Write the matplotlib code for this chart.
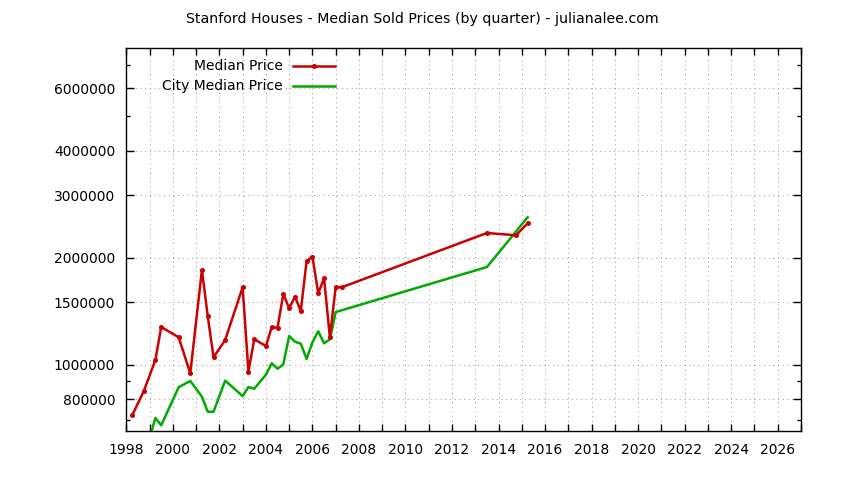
import matplotlib
matplotlib.use("Agg")
import matplotlib.pyplot as plt
from matplotlib.ticker import FixedLocator, FuncFormatter, NullFormatter
from matplotlib.lines import Line2D

# ---- data ----
median_x = [1998.25, 1998.75, 1999.25, 1999.5, 2000.25, 2000.75, 2001.25, 2001.5,
            2001.75, 2002.25, 2003.0, 2003.25, 2003.5, 2004.0, 2004.25, 2004.5,
            2004.75, 2005.0, 2005.25, 2005.5, 2005.75, 2006.0, 2006.25, 2006.5,
            2006.75, 2007.0, 2007.25, 2013.5, 2014.75, 2015.25]
median_y = [721000, 843000, 1032000, 1278000, 1196000, 947000, 1849000, 1373000,
            1050000, 1175000, 1653000, 957000, 1180000, 1130000, 1276000, 1272000,
            1583000, 1443000, 1555000, 1418000, 1960000, 2016000, 1590000, 1752000,
            1196000, 1656000, 1652000, 2350000, 2315000, 2502000]

city_x = [1999.0, 1999.25, 1999.5, 2000.25, 2000.75, 2001.25, 2001.5, 2001.75,
          2002.25, 2003.0, 2003.25, 2003.5, 2004.0, 2004.25, 2004.5, 2004.75,
          2005.0, 2005.25, 2005.5, 2005.75, 2006.0, 2006.25, 2006.5, 2006.75,
          2007.0, 2013.5, 2015.25]
city_y = [621000, 709000, 676000, 865000, 901000, 814000, 738000, 738000,
          903000, 817000, 866000, 857000, 938000, 1010000, 975000, 1004000,
          1206000, 1162000, 1147000, 1039000, 1157000, 1243000, 1150000, 1180000,
          1408000, 1885000, 2601000]

y_major = [800000, 1000000, 1500000, 2000000, 3000000, 4000000, 6000000]
y_minor = [700000, 900000, 5000000, 7000000]
x_years = list(range(1998, 2028))

title = "Stanford Houses - Median Sold Prices (by quarter) - julianalee.com"
labels = ["Median Price", "City Median Price"]

RED = "#cc0000"
GREEN = "#00aa00"

plt.rcParams['font.family'] = ['DejaVu Sans']
plt.rcParams['font.size'] = 10

W, H = 844, 480
fig = plt.figure(figsize=(W / 100, H / 100), dpi=100)
L, R, T, B = 126.3, 801, 48, 431
ax = fig.add_axes([L / W, 1 - B / H, (R - L) / W, (B - T) / H])

LW = 1.8
MS = 2.6
ax.set_yscale('log')
ax.plot(median_x, median_y, color=RED, lw=LW, marker='o', ms=MS, zorder=3)
ax.plot(city_x, city_y, color=GREEN, lw=LW, zorder=2)

ax.set_xlim(1998, 2027)
ax.set_ylim(651500, 7790000)

ax.xaxis.set_major_locator(FixedLocator(x_years))
ax.xaxis.set_major_formatter(FuncFormatter(lambda v, p: f"{int(round(v))}" if int(round(v)) % 2 == 0 else ""))
ax.yaxis.set_major_locator(FixedLocator(y_major))
ax.yaxis.set_major_formatter(FuncFormatter(lambda v, p: f"{int(round(v))}"))
ax.yaxis.set_minor_locator(FixedLocator(y_minor))
ax.yaxis.set_minor_formatter(NullFormatter())
ax.xaxis.set_minor_locator(FixedLocator([]))

ax.tick_params(axis='both', which='both', direction='in', top=True, right=True,
               color='black', width=1.0)
ax.tick_params(axis='y', which='major', length=5.8, pad=8)
ax.tick_params(axis='y', which='minor', length=3)
ax.tick_params(axis='x', which='major', length=5, pad=9)

ax.grid(True, which='major', color='#a0a0a0', lw=0.75, linestyle=(0, (1, 3.5)))
ax.set_axisbelow(True)
for s in ax.spines.values():
    s.set_linewidth(1.0)
    s.set_color('black')

fig.text(422 / W, 1 - 19 / H, title, ha='center', va='center', fontsize=10.2)

# legend
rows = [(65.7, RED, True), (85.7, GREEN, False)]
for (yy, col, mk), lab in zip(rows, labels):
    fig.text(283 / W, 1 - yy / H, lab, ha='right', va='center', fontsize=10)
    fig.add_artist(Line2D([293 / W, 335 / W], [1 - yy / H, 1 - yy / H], color=col, lw=LW,
                          transform=fig.transFigure))
    if mk:
        fig.add_artist(Line2D([314 / W], [1 - yy / H], color=col, marker='o', ms=MS,
                              transform=fig.transFigure))

fig.savefig("out.png", dpi=100)
